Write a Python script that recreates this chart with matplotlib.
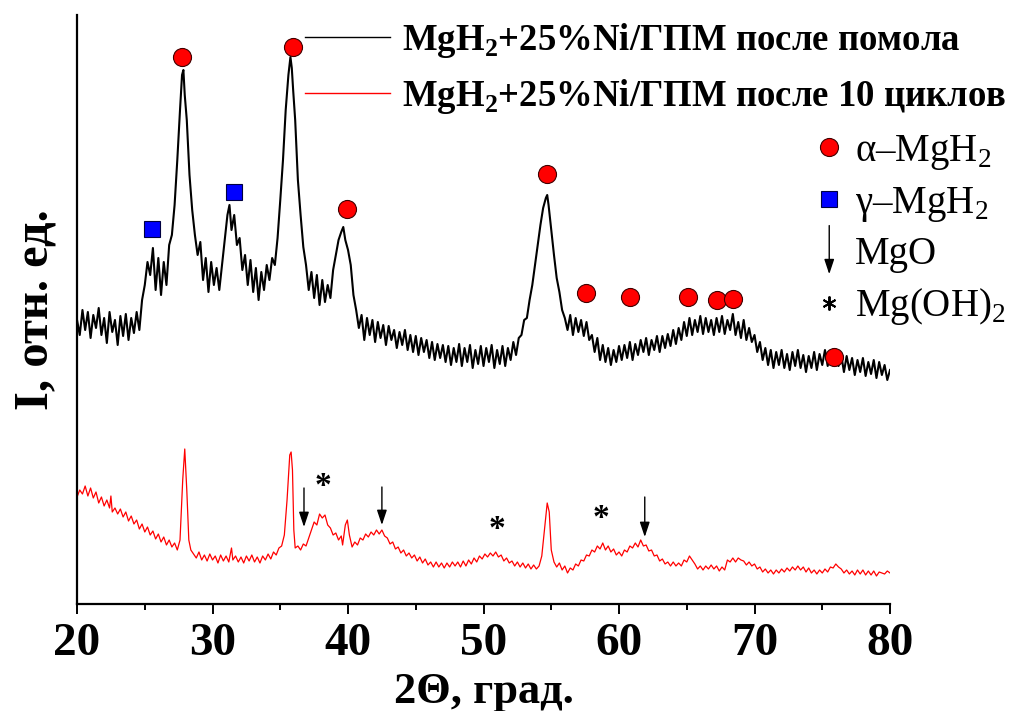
"""XRD patterns of MgH2+25%Ni/GPM after milling and after 10 cycles."""
import matplotlib
matplotlib.use("Agg")
import matplotlib.pyplot as plt
import numpy as np
from matplotlib.lines import Line2D
from matplotlib.legend_handler import HandlerBase
from matplotlib.patches import FancyArrowPatch

plt.rcParams["font.family"] = ["Liberation Serif", "DejaVu Serif"]
plt.rcParams["mathtext.fontset"] = "custom"
plt.rcParams["mathtext.rm"] = "Liberation Serif"
plt.rcParams["mathtext.bf"] = "Liberation Serif:bold"

# ---------------------------------------------------------------------------
# Data (2theta in degrees, intensity in arbitrary units)
# ---------------------------------------------------------------------------
MILLED = [
    (20.0, 280), (20.2, 265), (20.4, 290), (20.6, 270), (20.8, 288), (21.0, 262),
    (21.2, 285), (21.4, 272), (21.6, 292), (21.8, 265), (22.0, 282), (22.2, 257),
    (22.4, 288), (22.6, 268), (22.8, 280), (23.0, 255), (23.2, 284), (23.4, 264),
    (23.6, 286), (23.8, 260), (24.0, 282), (24.2, 267), (24.4, 288), (24.6, 270),
    (24.8, 300), (25.0, 315), (25.2, 338), (25.4, 325), (25.6, 352), (25.8, 310),
    (26.0, 342), (26.2, 305), (26.4, 338), (26.6, 315), (26.8, 355), (27.0, 365),
    (27.2, 395), (27.4, 440), (27.6, 490), (27.75, 525), (27.85, 530), (27.95, 505),
    (28.1, 480), (28.3, 425), (28.5, 390), (28.7, 365), (28.9, 345), (29.1, 358),
    (29.3, 320), (29.5, 342), (29.7, 308), (29.9, 338), (30.1, 315), (30.3, 332),
    (30.5, 310), (30.7, 335), (30.9, 360), (31.1, 385), (31.25, 395), (31.4, 370),
    (31.6, 385), (31.8, 355), (32.0, 362), (32.2, 330), (32.4, 345), (32.6, 315),
    (32.8, 340), (33.0, 308), (33.2, 332), (33.4, 300), (33.6, 328), (33.8, 310),
    (34.0, 335), (34.2, 320), (34.4, 342), (34.6, 335), (34.8, 362), (35.0, 400),
    (35.2, 440), (35.4, 490), (35.6, 525), (35.75, 543), (35.85, 532), (35.95, 510),
    (36.1, 480), (36.3, 420), (36.5, 385), (36.7, 353), (36.9, 335), (37.1, 310),
    (37.3, 328), (37.5, 302), (37.7, 325), (37.9, 295), (38.1, 320), (38.3, 298),
    (38.5, 315), (38.7, 302), (38.9, 330), (39.1, 345), (39.3, 360), (39.5, 368),
    (39.65, 373), (39.8, 360), (40.0, 350), (40.2, 335), (40.4, 305), (40.6, 290),
    (40.8, 272), (41.0, 285), (41.2, 260), (41.4, 282), (41.6, 265), (41.8, 280),
    (42.0, 258), (42.2, 278), (42.4, 262), (42.6, 275), (42.8, 255), (43.0, 274),
    (43.2, 260), (43.4, 270), (43.6, 252), (43.8, 268), (44.0, 255), (44.2, 270),
    (44.4, 250), (44.6, 265), (44.8, 248), (45.0, 264), (45.2, 245), (45.4, 262),
    (45.6, 248), (45.8, 260), (46.0, 242), (46.2, 258), (46.4, 240), (46.6, 256),
    (46.8, 242), (47.0, 255), (47.2, 238), (47.4, 254), (47.6, 235), (47.8, 252),
    (48.0, 238), (48.2, 256), (48.4, 234), (48.6, 252), (48.8, 238), (49.0, 255),
    (49.2, 232), (49.4, 250), (49.6, 236), (49.8, 254), (50.0, 234), (50.2, 252),
    (50.4, 238), (50.6, 255), (50.8, 232), (51.0, 250), (51.2, 236), (51.4, 254),
    (51.6, 234), (51.8, 252), (52.0, 240), (52.2, 258), (52.4, 245), (52.6, 262),
    (52.8, 265), (53.0, 280), (53.2, 282), (53.4, 300), (53.6, 315), (53.8, 335),
    (54.0, 355), (54.2, 375), (54.4, 392), (54.6, 402), (54.7, 405), (54.8, 395),
    (55.0, 370), (55.2, 345), (55.4, 322), (55.6, 308), (55.8, 290), (56.0, 282),
    (56.2, 270), (56.4, 285), (56.6, 265), (56.8, 282), (57.0, 268), (57.2, 280),
    (57.4, 264), (57.6, 278), (57.8, 260), (58.0, 265), (58.2, 248), (58.4, 262),
    (58.6, 240), (58.8, 255), (59.0, 238), (59.2, 252), (59.4, 235), (59.6, 250),
    (59.8, 238), (60.0, 254), (60.2, 240), (60.4, 255), (60.6, 242), (60.8, 258),
    (61.0, 240), (61.2, 256), (61.4, 245), (61.6, 260), (61.8, 248), (62.0, 262),
    (62.2, 245), (62.4, 260), (62.6, 250), (62.8, 264), (63.0, 248), (63.2, 264),
    (63.4, 252), (63.6, 266), (63.8, 254), (64.0, 270), (64.2, 256), (64.4, 272),
    (64.6, 260), (64.8, 278), (65.0, 264), (65.2, 282), (65.4, 265), (65.6, 280),
    (65.8, 268), (66.0, 284), (66.2, 266), (66.4, 282), (66.6, 268), (66.8, 280),
    (67.0, 265), (67.2, 282), (67.4, 268), (67.6, 284), (67.8, 266), (68.0, 280),
    (68.2, 270), (68.4, 286), (68.6, 265), (68.8, 278), (69.0, 262), (69.2, 280),
    (69.4, 260), (69.6, 272), (69.8, 258), (70.0, 265), (70.2, 248), (70.4, 258),
    (70.6, 240), (70.8, 252), (71.0, 235), (71.2, 250), (71.4, 232), (71.6, 248),
    (71.8, 235), (72.0, 250), (72.2, 232), (72.4, 246), (72.6, 230), (72.8, 248),
    (73.0, 234), (73.2, 250), (73.4, 232), (73.6, 245), (73.8, 228), (74.0, 244),
    (74.2, 232), (74.4, 248), (74.6, 230), (74.8, 246), (75.0, 235), (75.2, 250),
    (75.4, 234), (75.6, 248), (75.8, 238), (76.0, 250), (76.2, 234), (76.4, 245),
    (76.6, 228), (76.8, 244), (77.0, 230), (77.2, 242), (77.4, 225), (77.6, 240),
    (77.8, 228), (78.0, 242), (78.2, 224), (78.4, 238), (78.6, 226), (78.8, 240),
    (79.0, 222), (79.2, 238), (79.4, 225), (79.6, 235), (79.8, 220), (80.0, 230),
]

CYCLED = [
    (20.0, 103), (20.2, 110), (20.4, 106), (20.6, 114), (20.8, 104), (21.0, 112),
    (21.2, 102), (21.4, 108), (21.6, 97), (21.8, 103), (22.0, 94), (22.2, 100),
    (22.4, 92), (22.5, 104), (22.6, 88), (22.8, 92), (23.0, 86), (23.2, 91),
    (23.4, 83), (23.6, 88), (23.8, 79), (24.0, 84), (24.2, 76), (24.4, 80),
    (24.6, 71), (24.8, 76), (25.0, 68), (25.2, 73), (25.4, 65), (25.6, 69),
    (25.8, 61), (26.0, 66), (26.2, 58), (26.4, 63), (26.6, 55), (26.8, 60),
    (27.0, 53), (27.2, 57), (27.4, 50), (27.6, 60), (27.8, 120), (27.95, 151),
    (28.1, 110), (28.25, 60), (28.4, 50), (28.6, 46), (28.8, 42), (29.0, 48),
    (29.2, 40), (29.4, 45), (29.6, 39), (29.8, 46), (30.0, 40), (30.2, 44),
    (30.4, 37), (30.6, 45), (30.8, 39), (31.0, 44), (31.2, 38), (31.4, 52),
    (31.5, 40), (31.7, 44), (31.9, 38), (32.1, 43), (32.3, 37), (32.5, 44),
    (32.7, 39), (32.9, 45), (33.1, 38), (33.3, 43), (33.5, 37), (33.7, 44),
    (33.9, 40), (34.1, 46), (34.3, 41), (34.5, 48), (34.7, 45), (34.9, 52),
    (35.1, 54), (35.3, 65), (35.5, 100), (35.7, 145), (35.8, 148), (35.9, 130),
    (36.0, 70), (36.1, 52), (36.3, 54), (36.5, 50), (36.7, 56), (36.9, 54),
    (37.1, 62), (37.3, 70), (37.5, 78), (37.7, 75), (37.9, 86), (38.1, 82),
    (38.3, 85), (38.5, 75), (38.7, 72), (38.9, 65), (39.1, 67), (39.3, 60),
    (39.5, 64), (39.6, 55), (39.8, 75), (39.95, 80), (40.1, 65), (40.3, 53),
    (40.5, 58), (40.7, 55), (40.9, 62), (41.1, 60), (41.3, 66), (41.5, 63),
    (41.7, 68), (41.9, 65), (42.1, 70), (42.3, 66), (42.5, 70), (42.7, 64),
    (42.9, 62), (43.1, 56), (43.3, 58), (43.5, 51), (43.7, 53), (43.9, 47),
    (44.1, 50), (44.3, 44), (44.5, 47), (44.7, 42), (44.9, 45), (45.1, 39),
    (45.3, 43), (45.5, 37), (45.7, 41), (45.9, 35), (46.1, 38), (46.3, 33),
    (46.5, 38), (46.7, 33), (46.9, 37), (47.1, 32), (47.3, 37), (47.5, 33),
    (47.7, 38), (47.9, 34), (48.1, 38), (48.3, 33), (48.5, 39), (48.7, 34),
    (48.9, 40), (49.1, 36), (49.3, 42), (49.5, 38), (49.7, 44), (49.9, 41),
    (50.1, 46), (50.3, 43), (50.5, 47), (50.7, 44), (50.9, 48), (51.1, 43),
    (51.3, 45), (51.5, 39), (51.7, 42), (51.9, 37), (52.1, 39), (52.3, 34),
    (52.5, 38), (52.7, 33), (52.9, 37), (53.1, 32), (53.3, 36), (53.5, 31),
    (53.7, 35), (53.9, 31), (54.1, 34), (54.3, 44), (54.5, 70), (54.7, 97),
    (54.85, 88), (55.0, 50), (55.2, 38), (55.4, 33), (55.6, 37), (55.8, 30),
    (56.0, 34), (56.2, 27), (56.4, 32), (56.6, 30), (56.8, 36), (57.0, 34),
    (57.2, 40), (57.4, 39), (57.6, 45), (57.8, 44), (58.0, 50), (58.2, 48),
    (58.4, 54), (58.6, 51), (58.8, 57), (59.0, 50), (59.2, 54), (59.4, 48),
    (59.6, 51), (59.8, 45), (60.0, 48), (60.2, 44), (60.4, 50), (60.6, 48),
    (60.8, 54), (61.0, 52), (61.2, 57), (61.4, 53), (61.6, 60), (61.8, 54),
    (62.0, 55), (62.2, 49), (62.4, 50), (62.6, 44), (62.8, 45), (63.0, 39),
    (63.2, 41), (63.4, 36), (63.6, 38), (63.8, 34), (64.0, 38), (64.2, 34),
    (64.4, 37), (64.6, 34), (64.8, 40), (65.0, 38), (65.2, 44), (65.4, 40),
    (65.6, 36), (65.8, 31), (66.0, 34), (66.2, 30), (66.4, 34), (66.6, 31),
    (66.8, 35), (67.0, 31), (67.2, 34), (67.4, 29), (67.6, 33), (67.8, 30),
    (68.0, 40), (68.2, 38), (68.4, 42), (68.6, 38), (68.8, 42), (69.0, 40),
    (69.2, 39), (69.4, 35), (69.6, 38), (69.8, 34), (70.0, 36), (70.2, 31),
    (70.4, 33), (70.6, 28), (70.8, 31), (71.0, 27), (71.2, 30), (71.4, 26),
    (71.6, 30), (71.8, 27), (72.0, 31), (72.2, 28), (72.4, 32), (72.6, 29),
    (72.8, 33), (73.0, 30), (73.2, 34), (73.4, 30), (73.6, 33), (73.8, 28),
    (74.0, 32), (74.2, 27), (74.4, 30), (74.6, 26), (74.8, 30), (75.0, 27),
    (75.2, 31), (75.4, 28), (75.6, 33), (75.8, 32), (76.0, 36), (76.2, 33),
    (76.4, 31), (76.6, 27), (76.8, 30), (77.0, 26), (77.2, 29), (77.4, 25),
    (77.6, 30), (77.8, 26), (78.0, 30), (78.2, 25), (78.4, 29), (78.6, 25),
    (78.8, 29), (79.0, 24), (79.2, 28), (79.6, 26), (79.8, 29), (80.0, 27),
]

# phase markers
ALPHA_X = [27.75, 35.94, 39.93, 54.69, 57.56, 60.81, 65.09, 67.23, 68.41, 75.87]
ALPHA_Y = [543, 553, 391, 426, 307, 303, 303, 300, 301, 243]
GAMMA_X = [25.54, 31.59]
GAMMA_Y = [371, 408]
MGO_X = [36.75, 42.5, 61.9]
MGO_TAIL = [112, 113, 103]
MGO_TIP = [73, 75, 63]
MGOH_X = [38.18, 51.0, 58.67]
MGOH_Y = [113, 70, 81]

XTICKS = [20, 30, 40, 50, 60, 70, 80]

LABEL_MILLED = r"MgH$_\mathbf{2}$+25%Ni/ГПМ после помола"
LABEL_CYCLED = r"MgH$_\mathbf{2}$+25%Ni/ГПМ после 10 циклов"
PHASE_LABELS = ["α–MgH$_\\mathrm{2}$", "γ–MgH$_\\mathrm{2}$", "MgO",
                "Mg(OH)$_\\mathrm{2}$"]

ARROW_STYLE = "-|>,head_length=0.9,head_width=0.3"


class HandlerArrow(HandlerBase):
    """Thin down arrow for the MgO legend entry."""

    def create_artists(self, legend, orig_handle, xdescent, ydescent,
                       width, height, fontsize, trans):
        xc = width / 2 - xdescent
        arr = FancyArrowPatch((xc, height + 0.3 * fontsize),
                              (xc, -0.25 * fontsize),
                              arrowstyle=ARROW_STYLE, mutation_scale=10,
                              color="black", lw=1.0, shrinkA=0, shrinkB=0,
                              transform=trans)
        return [arr]


# ---------------------------------------------------------------------------
# Plot
# ---------------------------------------------------------------------------
fig = plt.figure(figsize=(10.23, 7.11), dpi=100)
ax = fig.add_axes([0.0753, 0.1505, 0.7947, 0.8284])

mx, my = np.array(MILLED).T
cx, cy = np.array(CYCLED).T
ax.plot(mx, my, color="black", lw=1.5)
ax.plot(cx, cy, color="red", lw=0.9)

ax.plot(ALPHA_X, ALPHA_Y, ls="none", marker="o", ms=13, mfc="red",
        mec="#400000", mew=0.8, zorder=5)
ax.plot(GAMMA_X, GAMMA_Y, ls="none", marker="s", ms=12, mfc="blue",
        mec="#000040", mew=0.8, zorder=5)
for x, y0, y1 in zip(MGO_X, MGO_TAIL, MGO_TIP):
    ax.annotate("", xy=(x, y1), xytext=(x, y0),
                arrowprops=dict(arrowstyle=ARROW_STYLE, color="black",
                                lw=1.0, shrinkA=0, shrinkB=0))
for x, y in zip(MGOH_X, MGOH_Y):
    ax.text(x, y, "*", ha="center", va="center", fontsize=24,
            fontweight="bold")

ax.set_xlim(20, 80)
ax.set_ylim(-4, 585)
ax.set_xticks(XTICKS)
ax.set_xticks(np.arange(25, 80, 10), minor=True)
ax.set_yticks([])
ax.spines["top"].set_visible(False)
ax.spines["right"].set_visible(False)
for s in ("left", "bottom"):
    ax.spines[s].set_linewidth(1.6)
ax.tick_params(axis="x", which="major", direction="out", length=7, width=1.4,
               pad=7, labelsize=34)
ax.tick_params(axis="x", which="minor", direction="out", length=4.5, width=1.4)
for lab in ax.get_xticklabels():
    lab.set_fontweight("bold")

ax.set_xlabel("2Θ, град.", fontsize=32, fontweight="bold", labelpad=5)
ax.set_ylabel("I, отн. ед.", fontsize=35, fontweight="bold", labelpad=14)

# legend for the curves
curve_handles = [Line2D([], [], color="black", lw=1.0),
                 Line2D([], [], color="red", lw=1.0)]
leg1 = ax.legend(curve_handles, [LABEL_MILLED, LABEL_CYCLED],
                 loc="upper left", bbox_to_anchor=(0.2805, 0.9895),
                 frameon=False, borderpad=0, borderaxespad=0,
                 handlelength=2.3, handletextpad=0.32, labelspacing=0.46,
                 prop=dict(family="Liberation Serif", weight="bold", size=26.5))
ax.add_artist(leg1)

# legend for the phases
arrow_handle = Line2D([], [])
phase_handles = [
    Line2D([], [], ls="none", marker="o", ms=13, mfc="red", mec="#400000", mew=0.8),
    Line2D([], [], ls="none", marker="s", ms=12, mfc="blue", mec="#000040", mew=0.8),
    arrow_handle,
    Line2D([], [], ls="none", marker=(6, 2, 0), ms=10, mew=1.4, color="black"),
]
ax.legend(phase_handles, PHASE_LABELS, loc="upper left",
          bbox_to_anchor=(0.903, 0.80), frameon=False, borderpad=0,
          borderaxespad=0, handlelength=0.93, handletextpad=0.2,
          labelspacing=0.33, handler_map={arrow_handle: HandlerArrow()},
          prop=dict(family="Liberation Serif", size=28))

fig.savefig("out.png", dpi=100)
